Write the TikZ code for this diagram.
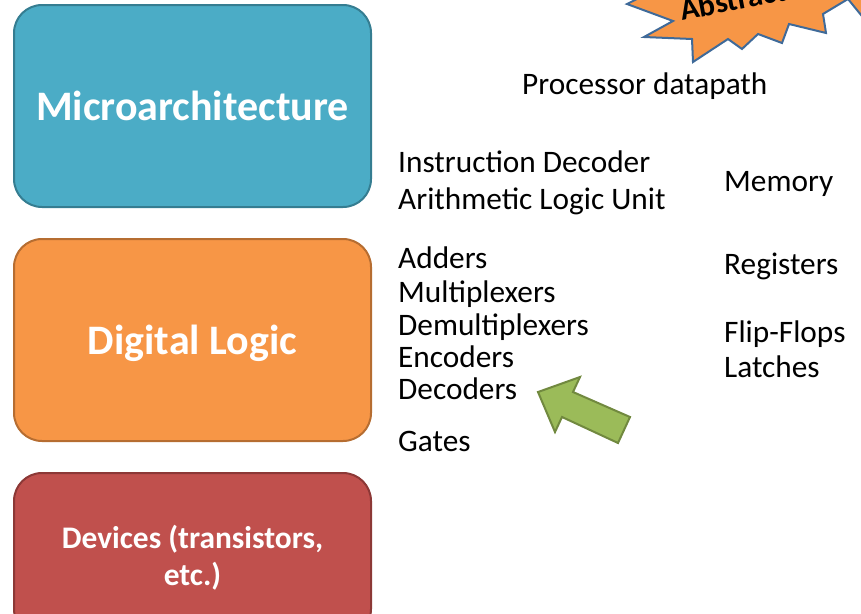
\documentclass[tikz,border=0pt]{standalone}
\usepackage{fontspec}
\setmainfont{Carlito}
\usetikzlibrary{positioning}
\definecolor{microfill}{HTML}{4BACC6}
\definecolor{microline}{HTML}{357D91}
\definecolor{logicfill}{HTML}{F79646}
\definecolor{logicline}{HTML}{B66D31}
\definecolor{devfill}{HTML}{C0504D}
\definecolor{devline}{HTML}{8C3836}
\definecolor{starline}{HTML}{3F6A99}
\definecolor{arrowfill}{HTML}{9BBB59}
\definecolor{arrowline}{HTML}{71893F}
\tikzset{
  layer/.style={rectangle, rounded corners=28pt, line width=2pt, minimum width=357pt, minimum height=202pt, text=white, text depth=0pt, align=center, font=\bfseries\fontsize{42}{50}\selectfont},
  item/.style={anchor=base west, inner sep=0pt, font=\fontsize{31.3}{38}\selectfont}
}

\begin{document}
\begin{tikzpicture}[x=1pt,y=-1pt]
  \clip (0,0) rectangle (861,613);

  % Layer boxes
  \node[layer, fill=microfill, draw=microline] (micro) at (192.5,106) {Microarchitecture};
  \node[layer, fill=logicfill, draw=logicline] (logic) [below=30pt of micro] {Digital Logic};
  \node[layer, fill=devfill, draw=devline, minimum height=164pt, font=\bfseries\fontsize{31.4}{37}\selectfont] (dev) [below=30pt of logic] {Devices (transistors,\\etc.)};

  % Starburst
  \draw[fill=logicfill, draw=starline, line width=2pt, line join=miter]
    (627,4) -- (673,21) -- (644,37) -- (692,39) -- (693,62) -- (728,39) -- (742,49)
    -- (758,34) -- (782,43) -- (789,24) -- (826,33) -- (823,14) -- (848,-1)
    -- (870,26) -- (900,-40) -- (700,-40) -- (665,-15) -- cycle;
  \node[rotate=11, font=\bfseries\fontsize{31}{36}\selectfont] (abstract) at (753,-4) {Abstraction};

  % Building blocks
  \node[item] (datapath) at (522,94) {Processor datapath};
  \node[item] (decoder) at (398,172) {Instruction Decoder};
  \node[item] (alu) at (398,209) {Arithmetic Logic Unit};
  \node[item] (memory) at (724,191) {Memory};

  \foreach \t/\y [count=\i] in {Adders/268, Multiplexers/302, Demultiplexers/335, Encoders/367, Decoders/399, Gates/451} {
    \node[item] (comb-\i) at (398,\y) {\t};
  }
  \foreach \t/\y [count=\i] in {Registers/274, Flip-Flops/342, Latches/377} {
    \node[item] (seq-\i) at (724,\y) {\t};
  }

  % Pointer
  \draw[fill=arrowfill, draw=arrowline, line width=2pt, line join=miter]
    (538,392) -- (580,377) -- (573,392) -- (630,417) -- (618,443) -- (562,417) -- (555,432) -- cycle;
\end{tikzpicture}
\end{document}
